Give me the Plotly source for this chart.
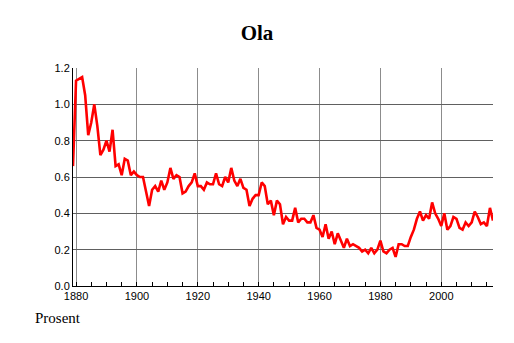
import plotly.graph_objects as go

years = list(range(1879, 2018))
values = [
    0.66, 1.13, 1.14, 1.15, 1.05, 0.83, 0.90, 1.00, 0.88, 0.72,
    0.75, 0.80, 0.74, 0.86, 0.66, 0.67, 0.61, 0.70, 0.69, 0.61,
    0.63, 0.61, 0.60, 0.60, 0.52, 0.44, 0.53, 0.55, 0.52, 0.58,
    0.53, 0.57, 0.65, 0.59, 0.61, 0.60, 0.51, 0.52, 0.55, 0.57,
    0.62, 0.55, 0.55, 0.53, 0.57, 0.56, 0.56, 0.62, 0.56, 0.55,
    0.60, 0.57, 0.65, 0.58, 0.55, 0.59, 0.54, 0.53, 0.44, 0.48,
    0.50, 0.50, 0.57, 0.55, 0.45, 0.47, 0.39, 0.47, 0.45, 0.34,
    0.38, 0.36, 0.36, 0.43, 0.35, 0.37, 0.37, 0.35, 0.35, 0.39,
    0.32, 0.31, 0.27, 0.34, 0.26, 0.30, 0.23, 0.29, 0.25, 0.21,
    0.26, 0.22, 0.23, 0.22, 0.21, 0.19, 0.20, 0.18, 0.21, 0.18,
    0.20, 0.25, 0.19, 0.18, 0.20, 0.21, 0.16, 0.23, 0.23, 0.22,
    0.22, 0.27, 0.31, 0.37, 0.41, 0.36, 0.39, 0.37, 0.46, 0.40,
    0.37, 0.33, 0.40, 0.31, 0.33, 0.38, 0.37, 0.32, 0.31, 0.35,
    0.33, 0.35, 0.41, 0.38, 0.34, 0.35, 0.33, 0.43, 0.36,
]

title_text = "Ola"
y_label = "Prosent"

fig = go.Figure()
fig.add_trace(go.Scatter(x=years, y=values, mode="lines",
                         line=dict(color="#ff0000", width=2.6),
                         hoverinfo="skip"))

tick_font = dict(family="Liberation Sans, Arial, sans-serif", size=11, color="black")

fig.update_layout(
    width=514, height=343,
    margin=dict(l=65, r=29, t=60, b=65),
    paper_bgcolor="white", plot_bgcolor="white",
    showlegend=False,
    title=dict(text="<b>" + title_text + "</b>", x=(257 - 8) / 514, xanchor="center",
               y=1 - 25 / 343, yanchor="middle", yref="container",
               font=dict(family="Liberation Serif, Times New Roman, serif", size=21, color="black")),
    xaxis=dict(range=[1879, 2017], dtick=20, tick0=1880,
               showgrid=True, gridcolor="#8c8c8c", gridwidth=1,
               showline=True, linecolor="black", linewidth=1,
               ticks="inside", ticklen=4, tickcolor="black",
               minor=dict(dtick=5, tick0=1880, ticks="inside", ticklen=4,
                          tickcolor="black", showgrid=False),
               tickfont=tick_font, zeroline=False, fixedrange=True),
    yaxis=dict(range=[0, 1.2], dtick=0.2, tickformat=".1f",
               showgrid=True, gridcolor="#606060", gridwidth=1,
               showline=True, linecolor="black", linewidth=1,
               ticks="", tickfont=tick_font, zeroline=False, fixedrange=True),
    annotations=[dict(text=y_label, xref="paper", yref="paper",
                      x=(33 - 73) / 420, y=(286 - 318) / 218,
                      xanchor="left", yanchor="middle", showarrow=False,
                      font=dict(family="Liberation Serif, Times New Roman, serif", size=15, color="black"))],
)

fig.write_html("out.html")
